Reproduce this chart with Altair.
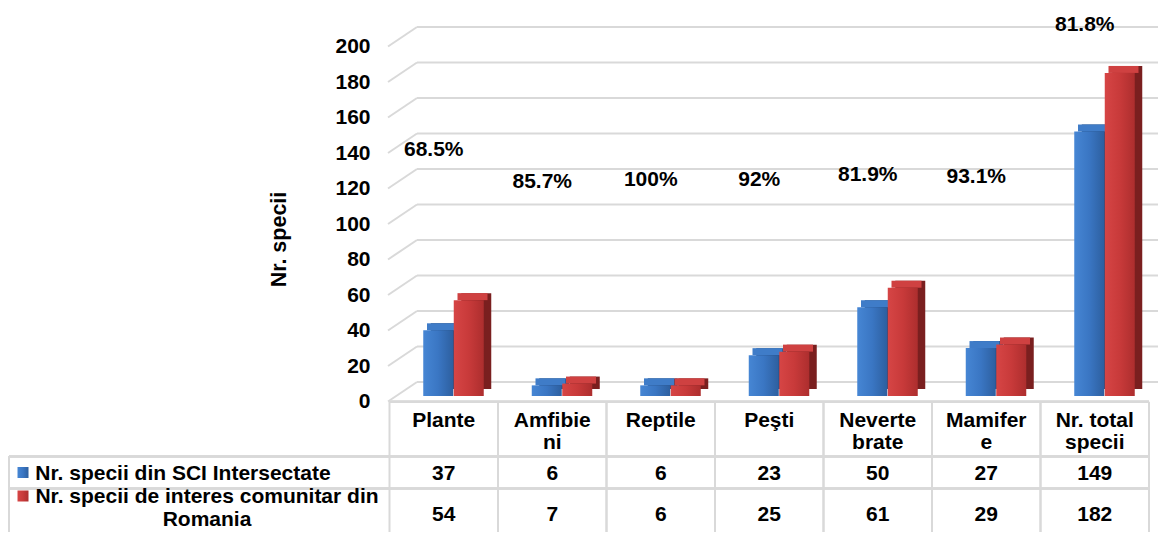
import altair as alt
import pandas as pd

# ---------------- data ----------------
categories = ["Plante", "Amfibieni", "Reptile", "Peşti", "Nevertebrate", "Mamifere", "Nr. total specii"]
header_labels = ["Plante", "Amfibie\nni", "Reptile", "Peşti", "Neverte\nbrate", "Mamifer\ne", "Nr. total\nspecii"]
series_names = ["Nr. specii din SCI Intersectate", "Nr. specii de interes comunitar din Romania"]
series_labels = ["Nr. specii din SCI Intersectate", "Nr. specii de interes comunitar din\nRomania"]
sci_values = [37, 6, 6, 23, 50, 27, 149]
ro_values = [54, 7, 6, 25, 61, 29, 182]
pct_labels = ["68.5%", "85.7%", "100%", "92%", "81.9%", "93.1%", "81.8%"]
pct_label_height = [141.7, 123.4, 124.8, 124.8, 127.6, 126.2, 212.1]
y_ticks = [0, 20, 40, 60, 80, 100, 120, 140, 160, 180, 200]

df = pd.DataFrame({
    "category": categories,
    "header": header_labels,
    "sci": sci_values,
    "ro": ro_values,
    "pct": pct_labels,
    "pct_y": pct_label_height,
})
grid_df = pd.DataFrame({"v": y_ticks})
leg_df = pd.DataFrame({"series": series_names, "label": series_labels})

# ---------------- layout / style ----------------
FONT = "Liberation Sans"
FS = 21
W, H = 1150, 524
K = 1.775          # px per unit
ZERO = 393.5       # pixel row of value 0 (front edge)
DEPTH_Y = 19.5     # 3D wall depth (vertical)
GRID = "#d9d9d9"
TAB_LEFT = 381.5
RIGHT = 1141

xscale = alt.Scale(type="band", domain=categories, paddingInner=0, paddingOuter=0,
                   range=[TAB_LEFT, RIGHT], round=False)
yscale = alt.Scale(domain=[-(H - ZERO) / K, ZERO / K], nice=False, zero=False)

yaxis = alt.Axis(values=y_ticks, title="Nr. specii", domain=False, ticks=False, grid=False,
                 labelFont=FONT, labelFontSize=FS, labelFontWeight="bold", labelColor="#000000",
                 labelPadding=0, offset=-362,
                 titleFont=FONT, titleFontSize=FS + 0.5, titleFontWeight="bold", titleColor="#000000",
                 titleAngle=270, titleX=-91, titleY=231, titleAlign="center", titleBaseline="middle")


def X(bp=None):
    if bp is None:
        return alt.X("category:N", scale=xscale, axis=None)
    return alt.X("category:N", scale=xscale, axis=None, bandPosition=bp)


def Y(field):
    return alt.Y(field, scale=yscale, axis=yaxis)


def txt(**kw):
    base = dict(font=FONT, fontSize=FS, fontWeight="bold", color="#000000")
    base.update(kw)
    return base


# ---------------- 3D grid ----------------
grid_back = alt.Chart(grid_df).mark_rule(color=GRID, strokeWidth=2, yOffset=-DEPTH_Y).encode(
    x=alt.value(409), x2=alt.value(W), y=Y("v:Q"))
grid_diag = alt.Chart(grid_df).mark_rule(color=GRID, strokeWidth=2, y2Offset=-DEPTH_Y).encode(
    x=alt.value(380), x2=alt.value(409), y=Y("v:Q"), y2="v:Q")

# ---------------- table lines ----------------
TOP = 393.7
ROW1 = 448.5
ROW2 = 480.5
LEFT = 1

table_top = alt.Chart(df).mark_rule(color=GRID, strokeWidth=2).encode(
    x=alt.value(TAB_LEFT), x2=alt.value(RIGHT), y=alt.value(TOP))
row_line1 = alt.Chart(df).mark_rule(color=GRID, strokeWidth=2).encode(
    x=alt.value(LEFT), x2=alt.value(RIGHT), y=alt.value(ROW1))
row_line2 = alt.Chart(df).mark_rule(color=GRID, strokeWidth=2).encode(
    x=alt.value(LEFT), x2=alt.value(RIGHT), y=alt.value(ROW2))
col_start = alt.Chart(df).mark_rule(color=GRID, strokeWidth=2).encode(
    x=X(0), y=alt.value(TOP), y2=alt.value(H))
col_end = alt.Chart(df).mark_rule(color=GRID, strokeWidth=2).encode(
    x=X(1), y=alt.value(TOP), y2=alt.value(H))
left_border = alt.Chart(df).mark_rule(color=GRID, strokeWidth=2).encode(
    x=alt.value(LEFT), y=alt.value(ROW1), y2=alt.value(H))


# ---------------- 3D bars ----------------
def grad(stops):
    return alt.LinearGradient(
        gradient="linear", x1=0, x2=1, y1=0, y2=0,
        stops=[alt.GradientStop(offset=o, color=c) for o, c in stops])


BASE = -5.5
TOPH = 7
SIDE = 7.5
BW = 30


def bars(field, off, front, side_col, top_col):
    side = alt.Chart(df).mark_bar(width=BW, color=side_col, xOffset=off + SIDE,
                                  yOffset=BASE - TOPH, y2Offset=BASE - TOPH).encode(
        x=X(), y=Y(f"{field}:Q"), y2=alt.datum(0))
    top = alt.Chart(df).mark_bar(width=BW, color=top_col, xOffset=off + SIDE / 2,
                                 yOffset=BASE - TOPH, y2Offset=BASE).encode(
        x=X(), y=Y(f"{field}:Q"), y2=f"{field}:Q")
    fr = alt.Chart(df).mark_bar(width=BW, color=front, xOffset=off,
                                yOffset=BASE, y2Offset=BASE).encode(
        x=X(), y=Y(f"{field}:Q"), y2=alt.datum(0))
    return [side, top, fr]


blue_front = grad([(0, "#4686d4"), (0.5, "#3a76c3"), (1, "#2d5f9f")])
red_front = grad([(0, "#d64545"), (0.5, "#c83a3a"), (1, "#ad2e2e")])
blue_bars = bars("sci", -5.5, blue_front, "#1f4475", "#3f7cc8")
red_bars = bars("ro", 25, red_front, "#7a1f1f", "#cf4141")

# ---------------- percentage labels ----------------
pct_text = alt.Chart(df).mark_text(**txt(dx=-10, baseline="middle")).encode(
    x=X(), y=Y("pct_y:Q"), text="pct:N")

# ---------------- table texts ----------------
header_text = alt.Chart(df).mark_text(**txt(baseline="alphabetic", lineBreak="\n", lineHeight=22)).encode(
    x=X(), y=alt.value(419), text="header:N")
row1_text = alt.Chart(df).mark_text(**txt(baseline="alphabetic")).encode(
    x=X(), y=alt.value(471.5), text="sci:Q")
row2_text = alt.Chart(df).mark_text(**txt(baseline="alphabetic")).encode(
    x=X(), y=alt.value(513), text="ro:Q")

leg1_df = leg_df.iloc[[0]]
leg2_df = leg_df.iloc[[1]]
leg1_icon = alt.Chart(leg1_df).mark_square(size=121, filled=True, color=blue_front, opacity=1).encode(
    x=alt.value(15), y=alt.value(464.5))
leg2_icon = alt.Chart(leg2_df).mark_square(size=121, filled=True, color=red_front, opacity=1).encode(
    x=alt.value(15), y=alt.value(488))
leg1_text = alt.Chart(leg1_df).mark_text(**txt(align="center", baseline="alphabetic")).encode(
    x=alt.value(175), y=alt.value(471.5), text="label:N")
leg2_text = alt.Chart(leg2_df).mark_text(**txt(align="center", baseline="alphabetic",
                                                lineBreak="\n", lineHeight=23)).encode(
    x=alt.value(199), y=alt.value(495), text="label:N")

layers = [grid_back, grid_diag, table_top, row_line1, row_line2, col_start, col_end, left_border]
layers += blue_bars + red_bars
layers += [pct_text, header_text, row1_text, row2_text, leg1_icon, leg2_icon, leg1_text, leg2_text]

chart = alt.layer(*layers).properties(
    width=W, height=H, padding=0,
    autosize=alt.AutoSizeParams(type="none"),
    background="white",
).configure_view(stroke=None)

chart.save("out.html", embed_options={"renderer": "svg", "actions": False})
